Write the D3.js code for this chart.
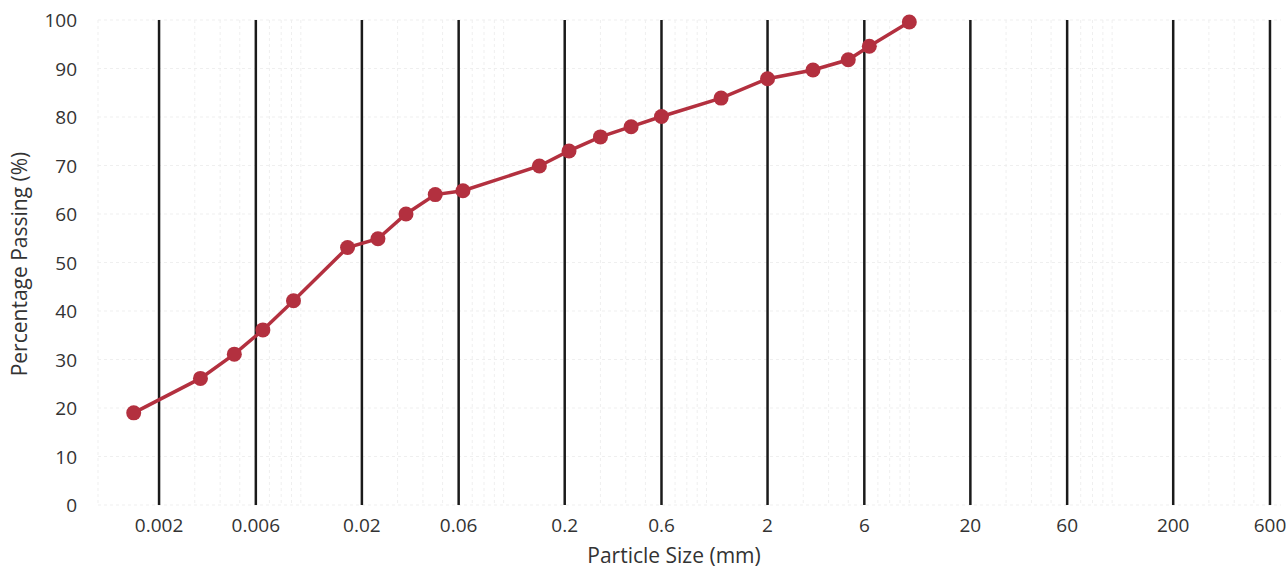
<!DOCTYPE html>
<html>
<head>
<meta charset="utf-8">
<script src="https://cdn.jsdelivr.net/npm/d3@7/dist/d3.min.js"></script>
<style>
  body { margin: 0; background: #fff; }
  .ticklabel { font-family: "Open Sans", "Liberation Sans", sans-serif; font-size: 19px; fill: #333; }
  .axistitle { font-family: "Open Sans", "Liberation Sans", sans-serif; font-size: 21px; fill: #333; }
</style>
</head>
<body>
<div id="chart"></div>
<script>
// particle size (mm) and percentage passing
var sizes = [0.0015, 0.0032, 0.0047, 0.0065, 0.0092, 0.017, 0.024, 0.033, 0.046, 0.063,
             0.15, 0.21, 0.30, 0.425, 0.60, 1.18, 2.0, 3.35, 5.0, 6.35, 10.0];
var passing = [19.0, 26.1, 31.1, 36.1, 42.1, 53.1, 54.9, 60.0, 64.0, 64.8,
               69.9, 73.0, 75.9, 78.0, 80.1, 83.9, 87.9, 89.7, 91.8, 94.6, 99.6];
var xTicks = [0.002, 0.006, 0.02, 0.06, 0.2, 0.6, 2, 6, 20, 60, 200, 600];
var yTicks = [0, 10, 20, 30, 40, 50, 60, 70, 80, 90, 100];

function make_chart() {
    var width = 1286, height = 569;
    var svg = d3.select("#chart").append("svg")
        .attr("width", width)
        .attr("height", height);

    var xScale = d3.scaleLog([0.001, 680], [98, 1281]);
    var yScale = d3.scaleLinear([0, 100], [505, 20]);

    // faint background grid
    var grid = svg.append("g").attr("stroke", "#efefef").attr("stroke-width", 1)
        .attr("stroke-dasharray", "3,3");
    grid.selectAll("line.h").data(yTicks).enter().append("line")
        .attr("x1", xScale.range()[0]).attr("x2", xScale.range()[1])
        .attr("y1", d => yScale(d)).attr("y2", d => yScale(d));
    grid.selectAll("line.v").data(xScale.ticks()).enter().append("line")
        .attr("x1", d => xScale(d)).attr("x2", d => xScale(d))
        .attr("y1", yScale(100)).attr("y2", yScale(0));

    // black vertical lines at sieve sizes
    svg.append("g").selectAll("line").data(xTicks).enter().append("line")
        .attr("x1", d => xScale(d)).attr("x2", d => xScale(d))
        .attr("y1", yScale(100)).attr("y2", yScale(0))
        .attr("stroke", "#1a1a1a").attr("stroke-width", 2.5);

    // tick labels
    svg.append("g").selectAll("text").data(xTicks).enter().append("text")
        .attr("class", "ticklabel")
        .attr("x", d => xScale(d)).attr("y", 532)
        .attr("text-anchor", "middle")
        .text(d => d);
    svg.append("g").selectAll("text").data(yTicks).enter().append("text")
        .attr("class", "ticklabel")
        .attr("x", 77).attr("y", d => yScale(d)).attr("dy", 7)
        .attr("text-anchor", "end")
        .text(d => d);

    // axis titles
    svg.append("text").attr("class", "axistitle")
        .attr("x", 674).attr("y", 563).attr("text-anchor", "middle")
        .text("Particle Size (mm)");
    svg.append("text").attr("class", "axistitle")
        .attr("transform", "translate(27,264) rotate(-90)")
        .attr("text-anchor", "middle")
        .text("Percentage Passing (%)");

    var pts = sizes.map((s, i) => ({x: s, y: passing[i]}));
    var line = d3.line().x(d => xScale(d.x)).y(d => yScale(d.y));
    svg.append("path").datum(pts)
        .attr("d", line)
        .attr("fill", "none")
        .attr("stroke", "#b3303f")
        .attr("stroke-width", 3.5);
    svg.append("g").selectAll("circle").data(pts).enter().append("circle")
        .attr("cx", d => xScale(d.x)).attr("cy", d => yScale(d.y))
        .attr("r", 7.5)
        .attr("fill", "#b3303f");
}

make_chart();
</script>
</body>
</html>
